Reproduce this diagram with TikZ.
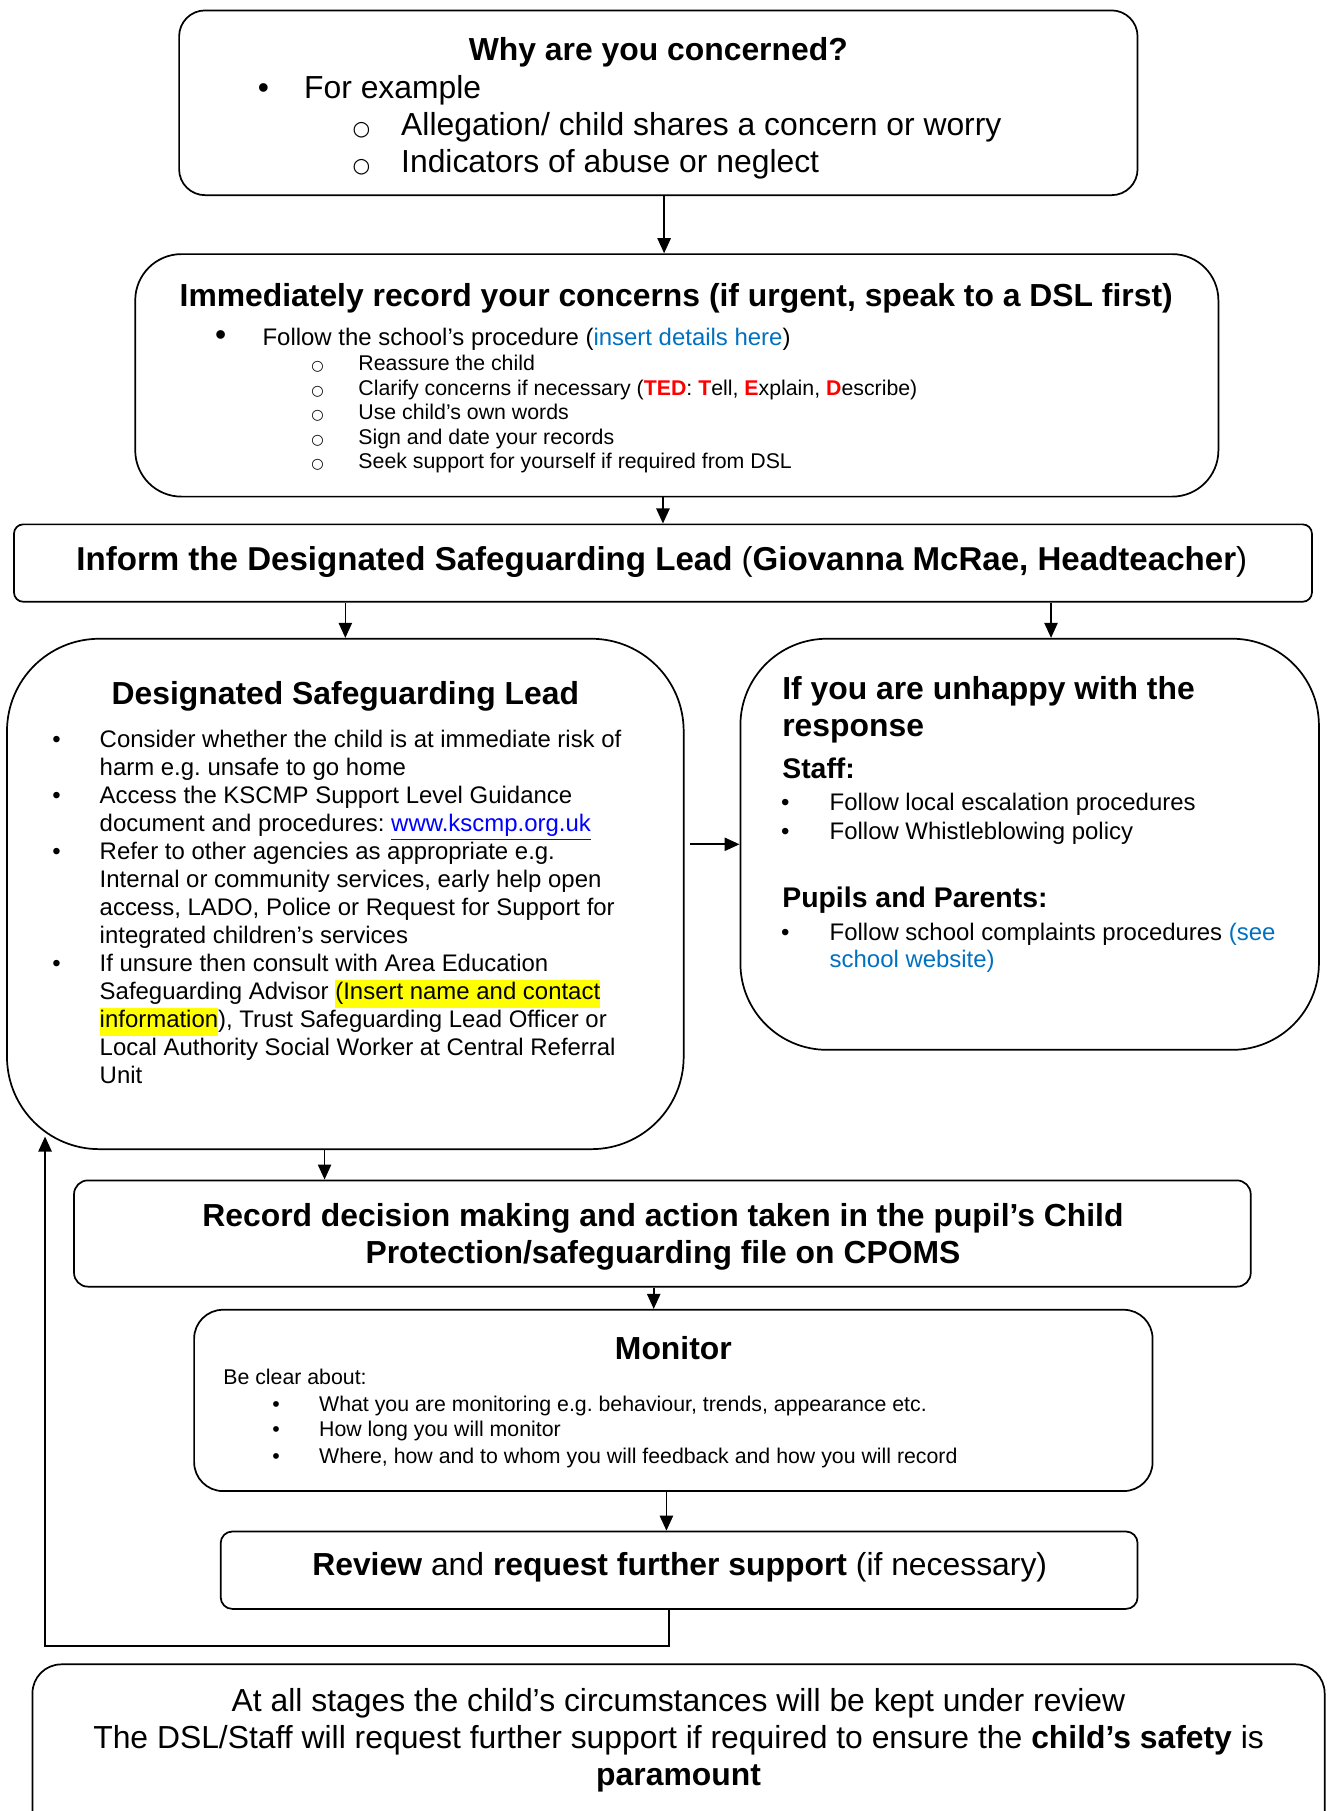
\documentclass[tikz,border=0pt]{standalone}
\usepackage{fontspec}
\setmainfont{Liberation Sans}
\newfontfamily\ringfont{DejaVu Sans}
\usetikzlibrary{arrows.meta}
\definecolor{linkblue}{RGB}{0,112,192}
\definecolor{urlblue}{RGB}{0,0,255}
\definecolor{tedred}{RGB}{255,0,0}
\definecolor{hl}{RGB}{255,255,0}
\newcommand{\fbig}{\fontsize{15.7pt}{18.1pt}\selectfont}
\newcommand{\finf}{\fontsize{16.3pt}{18.8pt}\selectfont}
\newcommand{\fhead}{\fontsize{14pt}{16pt}\selectfont}
\newcommand{\fmid}{\fontsize{11.8pt}{13.75pt}\selectfont}
\newcommand{\fsml}{\fontsize{10.5pt}{12pt}\selectfont}
\newcommand{\hlt}[1]{{\setlength{\fboxsep}{0pt}\colorbox{hl}{\strut #1}}}
\newcommand{\ted}[1]{\textcolor{tedred}{\textbf{#1}}}
\frenchspacing
\begin{document}
\begin{tikzpicture}[x=0.02cm, y=-0.02cm,
    box/.style={draw, line width=0.85pt, inner sep=0pt},
    lt/.style={inner sep=0pt, anchor=base west},
    ct/.style={inner sep=0pt, anchor=base},
    ring/.style={inner sep=0pt, anchor=base, font=\fontsize{#1}{#1}\ringfont},
    arr/.style={line width=0.8pt, -{Triangle[length=0.26cm,width=0.23cm]}}]
    \useasboundingbox (0,0) rectangle (1150,1568);

    % boxes
    \node[box, rounded corners=0.45cm, minimum width=16.6cm, minimum height=3.2cm] (why) at (570,89) {};
    \node[box, rounded corners=0.8cm, minimum width=18.76cm, minimum height=4.2cm] (rec) at (586,325) {};
    \node[box, rounded corners=0.16cm, minimum width=22.48cm, minimum height=1.34cm] (inform) at (574,487.5) {};
    \node[box, rounded corners=1.6cm, minimum width=11.72cm, minimum height=8.84cm] (dsl) at (299,774) {};
    \node[box, rounded corners=1.5cm, minimum width=10.02cm, minimum height=7.12cm] (unhappy) at (891.5,731) {};
    \node[box, rounded corners=0.24cm, minimum width=20.38cm, minimum height=1.84cm] (cpoms) at (573.5,1068) {};
    \node[box, rounded corners=0.5cm, minimum width=16.6cm, minimum height=3.14cm] (monitor) at (583,1212.5) {};
    \node[box, rounded corners=0.2cm, minimum width=15.88cm, minimum height=1.34cm] (review) at (588,1359.5) {};
    \node[box, rounded corners=0.5cm, minimum width=22.38cm, minimum height=3.18cm] (stages) at (587.5,1520.5) {};

    % why are you concerned
    \node[ct, font=\fbig\bfseries] (why-t) at (570,52) {Why are you concerned?};
    \node[ct, font=\fbig] (why-b1) at (228,85) {•};
    \node[lt, font=\fbig] (why-1) at (263,85) {For example};
    \node[ring=10pt] (why-o1) at (313,117) {○};
    \node[lt, font=\fbig] (why-2) at (347,117) {Allegation/ child shares a concern or worry};
    \node[ring=10pt] (why-o2) at (313,149) {○};
    \node[lt, font=\fbig] (why-3) at (347,149) {Indicators of abuse or neglect};

    % record concerns
    \node[ct, font=\fbig\bfseries] (rec-t) at (585.5,265) {Immediately record your concerns (if urgent, speak to a DSL first)};
    \node[ct, font=\fbig] (rec-b1) at (191,299) {•};
    \node[lt, font=\fmid] (rec-1) at (227,299) {Follow the school’s procedure (\textcolor{linkblue}{insert details here})};
    \node[ring=7pt] (rec-o1) at (275,321) {○};
    \node[lt, font=\fsml] (rec-2) at (310,321) {Reassure the child};
    \node[ring=7pt] (rec-o2) at (275,342) {○};
    \node[lt, font=\fsml] (rec-3) at (310,342) {Clarify concerns if necessary (\ted{TED}: \ted{T}ell, \ted{E}xplain, \ted{D}escribe)};
    \node[ring=7pt] (rec-o3) at (275,363) {○};
    \node[lt, font=\fsml] (rec-4) at (310,363) {Use child’s own words};
    \node[ring=7pt] (rec-o4) at (275,385) {○};
    \node[lt, font=\fsml] (rec-5) at (310,385) {Sign and date your records};
    \node[ring=7pt] (rec-o5) at (275,406) {○};
    \node[lt, font=\fsml] (rec-6) at (310,406) {Seek support for yourself if required from DSL};

    % inform the DSL
    \node[ct, font=\finf] (inform-t) at (573,494) {\textbf{Inform the Designated Safeguarding Lead} (\textbf{Giovanna McRae, Headteacher})};

    % designated safeguarding lead
    \node[ct, font=\fbig\bfseries] (dsl-t) at (299,610) {Designated Safeguarding Lead};
    \node[ct, font=\fmid] (dsl-b1) at (49,647) {•};
    \node[lt, font=\fmid] (dsl-1) at (86,647) {Consider whether the child is at immediate risk of};
    \node[lt, font=\fmid] (dsl-2) at (86,671.25) {harm e.g. unsafe to go home};
    \node[ct, font=\fmid] (dsl-b2) at (49,695.5) {•};
    \node[lt, font=\fmid] (dsl-3) at (86,695.5) {Access the KSCMP Support Level Guidance};
    \node[lt, font=\fmid] (dsl-4) at (86,719.75) {document and procedures: \textcolor{urlblue}{\underline{www.kscmp.org.uk}}};
    \node[ct, font=\fmid] (dsl-b3) at (49,744) {•};
    \node[lt, font=\fmid] (dsl-5) at (86,744) {Refer to other agencies as appropriate e.g.};
    \node[lt, font=\fmid] (dsl-6) at (86,768.25) {Internal or community services, early help open};
    \node[lt, font=\fmid] (dsl-7) at (86,792.5) {access, LADO, Police or Request for Support for};
    \node[lt, font=\fmid] (dsl-8) at (86,816.75) {integrated children’s services};
    \node[ct, font=\fmid] (dsl-b4) at (49,841) {•};
    \node[lt, font=\fmid] (dsl-9) at (86,841) {If unsure then consult with Area Education};
    \node[lt, font=\fmid] (dsl-10) at (86,865.25) {Safeguarding Advisor \hlt{(Insert name and contact}};
    \node[lt, font=\fmid] (dsl-11) at (86,889.5) {\hlt{information}), Trust Safeguarding Lead Officer or};
    \node[lt, font=\fmid] (dsl-12) at (86,913.75) {Local Authority Social Worker at Central Referral};
    \node[lt, font=\fmid] (dsl-13) at (86,938) {Unit};

    % unhappy with the response
    \node[lt, font=\fbig\bfseries] (unh-t1) at (677,606) {If you are unhappy with the};
    \node[lt, font=\fbig\bfseries] (unh-t2) at (677,638) {response};
    \node[lt, font=\fhead\bfseries] (unh-s) at (677,674) {Staff:};
    \node[ct, font=\fmid] (unh-b1) at (680,702) {•};
    \node[lt, font=\fmid] (unh-1) at (718,702) {Follow local escalation procedures};
    \node[ct, font=\fmid] (unh-b2) at (680,727) {•};
    \node[lt, font=\fmid] (unh-2) at (718,727) {Follow Whistleblowing policy};
    \node[lt, font=\fhead\bfseries] (unh-p) at (677,786) {Pupils and Parents:};
    \node[ct, font=\fmid] (unh-b3) at (680,814) {•};
    \node[lt, font=\fmid] (unh-3) at (718,814) {Follow school complaints procedures \textcolor{linkblue}{(see}};
    \node[lt, font=\fmid] (unh-4) at (718,838) {\textcolor{linkblue}{school website)}};

    % record decision
    \node[ct, font=\fbig\bfseries] (cpoms-1) at (574,1062) {Record decision making and action taken in the pupil’s Child};
    \node[ct, font=\fbig\bfseries] (cpoms-2) at (574,1094) {Protection/safeguarding file on CPOMS};

    % monitor
    \node[ct, font=\fbig\bfseries] (mon-t) at (583,1177) {Monitor};
    \node[lt, font=\fsml] (mon-0) at (193,1199) {Be clear about:};
    \node[ct, font=\fsml] (mon-b1) at (239,1222) {•};
    \node[lt, font=\fsml] (mon-1) at (276,1222) {What you are monitoring e.g. behaviour, trends, appearance etc.};
    \node[ct, font=\fsml] (mon-b2) at (239,1244) {•};
    \node[lt, font=\fsml] (mon-2) at (276,1244) {How long you will monitor};
    \node[ct, font=\fsml] (mon-b3) at (239,1267) {•};
    \node[lt, font=\fsml] (mon-3) at (276,1267) {Where, how and to whom you will feedback and how you will record};

    % review
    \node[ct, font=\fbig] (review-t) at (588.5,1364) {\textbf{Review} and \textbf{request further support} (if necessary)};

    % all stages
    \node[ct, font=\fbig] (stages-1) at (587.5,1482) {At all stages the child’s circumstances will be kept under review};
    \node[ct, font=\fbig] (stages-2) at (587.5,1514) {The DSL/Staff will request further support if required to ensure the \textbf{child’s safety} is};
    \node[ct, font=\fbig\bfseries] (stages-3) at (587.5,1546) {paramount};

    % connectors
    \draw[arr] ([xshift=0.1cm]why.south) -- ([xshift=0.1cm]why.south |- rec.north);
    \draw[arr] (inform.north |- rec.south) -- (inform.north);
    \draw[arr] (inform.south -| dsl.north) -- (dsl.north);
    \draw[arr] ([xshift=0.37cm]unhappy.north |- inform.south) -- ([xshift=0.37cm]unhappy.north);
    \draw[arr, shorten <=0.1cm] (dsl.east |- unhappy.west) -- (unhappy.west);
    \draw[arr] ([xshift=-0.36cm]dsl.south) -- ([xshift=-0.36cm]dsl.south |- cpoms.north);
    \draw[arr] ([xshift=-0.15cm]cpoms.south) -- ([xshift=-0.15cm]cpoms.south |- monitor.north);
    \draw[arr] ([xshift=-0.12cm]monitor.south) -- ([xshift=-0.12cm]monitor.south |- review.north);
    \coordinate (fbturn) at (39,1425);
    \coordinate (fbtip) at (39,984);
    \draw[arr] ([xshift=-0.18cm]review.south) |- (fbturn) -- (fbtip);
\end{tikzpicture}
\end{document}
